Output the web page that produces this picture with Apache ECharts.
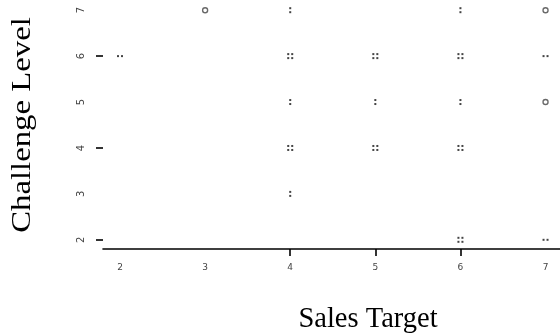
<!DOCTYPE html>
<html>
<head>
<meta charset="utf-8">
<script src="https://cdn.jsdelivr.net/npm/echarts@6/dist/echarts.min.js"></script>
<style>
  html, body { margin: 0; padding: 0; background: #fff; }
  #chart { width: 560px; height: 335px; }
</style>
</head>
<body>
<div id="chart"></div>
<script>
// Tick values on each axis
const xTickLabels = [2, 3, 4, 5, 6, 7];
const xTickMarks = [4, 5, 6];
const yTickLabels = [2, 3, 4, 5, 6, 7];
const yTickMarks = [2, 4, 6];

// Observations grouped by the glyph used to plot them: [salesTarget, challengeLevel]
const ringPoints = [[3, 7], [7, 7], [7, 5]];
const verticalPairPoints = [[4, 7], [6, 7], [4, 5], [5, 5], [6, 5], [4, 3]];
const horizontalPairPoints = [[2, 6], [7, 6], [7, 2]];
const quadPoints = [[4, 6], [5, 6], [6, 6], [4, 4], [5, 4], [6, 4], [6, 2]];

const dotColor = '#444';

// Dot offsets (px) forming each glyph
const glyphOffsets = {
  vpair: [[0, -2], [0, 2]],
  hpair: [[-2, 0], [2, 0]],
  quad: [[-2, -2], [2, -2], [-2, 2], [2, 2]]
};

function dotSeries(points, kind) {
  return {
    type: 'custom',
    data: points,
    renderItem: function (params, api) {
      const p = api.coord([api.value(0), api.value(1)]);
      return {
        type: 'group',
        children: glyphOffsets[kind].map(function (o) {
          return {
            type: 'rect',
            shape: { x: p[0] + o[0] - 1, y: p[1] + o[1] - 1, width: 2, height: 2 },
            style: { fill: dotColor }
          };
        })
      };
    }
  };
}

const chart = echarts.init(document.getElementById('chart'));
chart.setOption({
  animation: false,
  grid: { left: 103, right: 0, top: 1, bottom: 86 },
  xAxis: {
    type: 'value',
    min: 1.8,
    max: 7.17,
    splitLine: { show: false },
    axisLine: { show: true, lineStyle: { color: '#000', width: 1.6 } },
    axisTick: { show: true, length: 7, customValues: xTickMarks, lineStyle: { color: '#000', width: 1.6 } },
    axisLabel: { customValues: xTickLabels, margin: 14, fontSize: 9, color: '#444', fontFamily: 'DejaVu Sans' }
  },
  yAxis: {
    type: 'value',
    min: 1.8,
    max: 7.2,
    splitLine: { show: false },
    axisLine: { show: false },
    axisTick: { show: true, length: 7, customValues: yTickMarks, lineStyle: { color: '#000', width: 1.6 } },
    axisLabel: { customValues: yTickLabels, rotate: 90, margin: 17, fontSize: 10, color: '#444', fontFamily: 'DejaVu Sans' }
  },
  graphic: [
    {
      type: 'text',
      x: 368, y: 320,
      style: { text: 'Sales Target', font: '28.5px "Liberation Serif"', fill: '#000', textAlign: 'center', textVerticalAlign: 'middle' }
    },
    {
      type: 'text',
      x: 23, y: 125,
      rotation: Math.PI / 2,
      scaleX: 1.17,
      style: { text: 'Challenge Level', font: '28px "Liberation Serif"', fill: '#000', textAlign: 'center', textVerticalAlign: 'middle' }
    }
  ],
  series: [
    {
      type: 'scatter',
      data: ringPoints,
      symbol: 'circle',
      symbolSize: 5,
      itemStyle: { color: 'transparent', borderColor: dotColor, borderWidth: 1.4 }
    },
    dotSeries(verticalPairPoints, 'vpair'),
    dotSeries(horizontalPairPoints, 'hpair'),
    dotSeries(quadPoints, 'quad')
  ]
});
</script>
</body>
</html>
